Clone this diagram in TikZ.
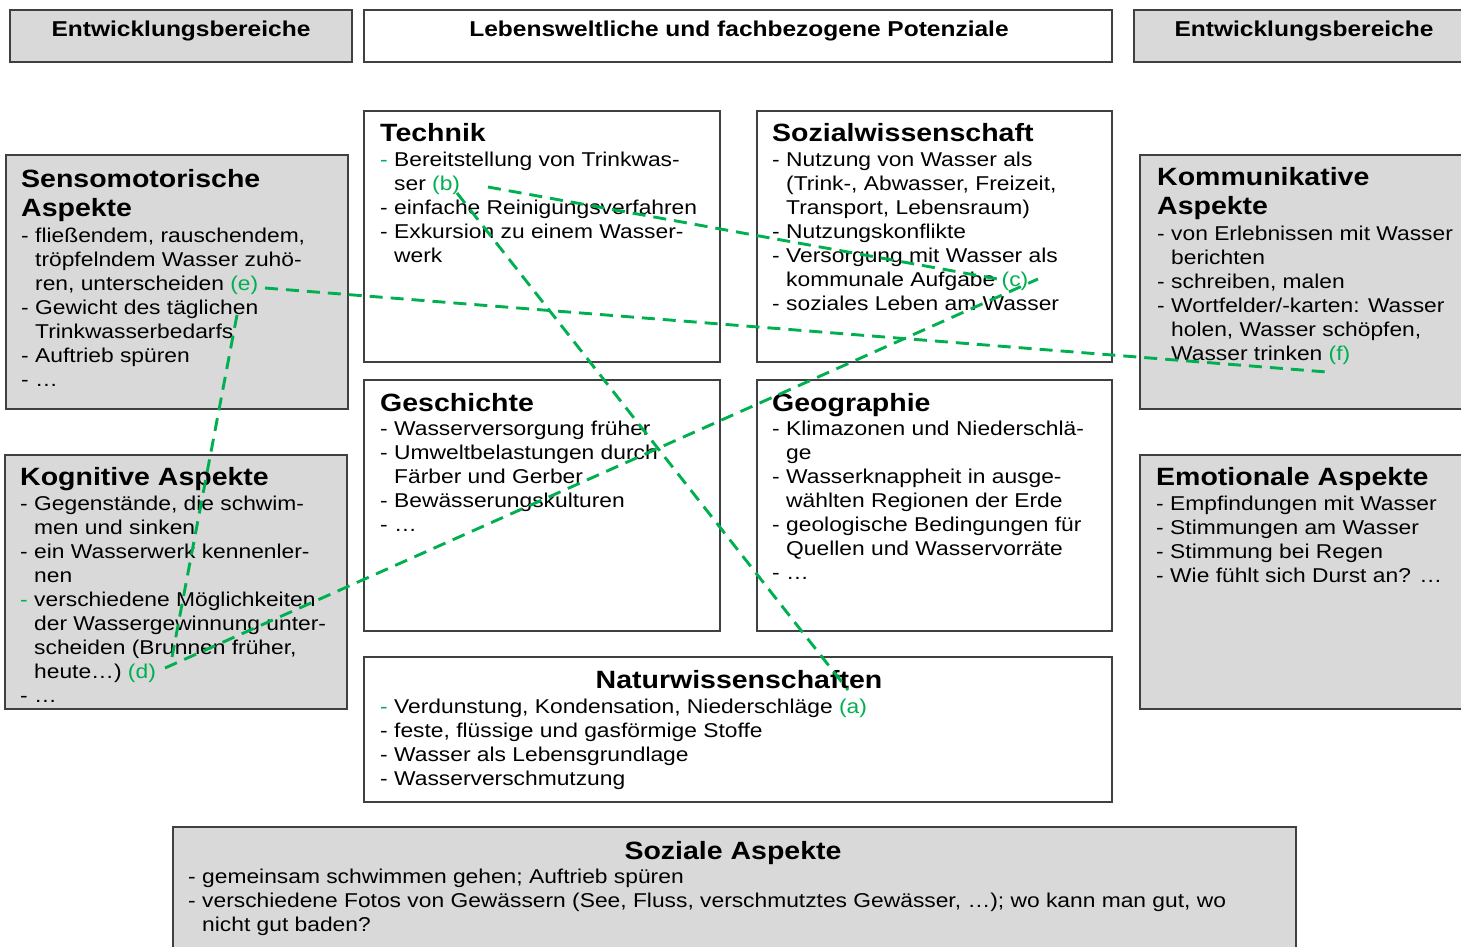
\documentclass[tikz,border=0pt]{standalone}
\usepackage{fontspec}
\setmainfont{Liberation Sans}[FakeStretch=1.14]
\usetikzlibrary{fit}
\definecolor{lgreen}{HTML}{00B050}
\definecolor{boxgray}{HTML}{D9D9D9}
\definecolor{edge}{HTML}{404040}
\newcommand\dsh{\makebox[14pt][l]{-}}
\newcommand\gdsh{\makebox[14pt][l]{\textcolor{lgreen}{-}}}
\newcommand\ind{\makebox[14pt]{}}
\newcommand\lab[1]{\textcolor{lgreen}{(#1)}}
\begin{document}
\begin{tikzpicture}[x=1pt,y=-1pt,
 whitebox/.style={draw=edge, line width=1.3pt, fill=white, inner sep=0pt},
 graybox/.style={whitebox, fill=boxgray},
 headtxt/.style={font=\fontsize{21.5}{24}\selectfont\bfseries, inner sep=0pt, anchor=north},
 titletxt/.style={font=\fontsize{25}{29.5}\selectfont\bfseries, inner sep=0pt, align=left, anchor=north west},
 listtxt/.style={font=\fontsize{20}{24}\selectfont, inner sep=0pt, align=left, anchor=north west},
 link/.style={draw=lgreen, line width=2.9pt, dash pattern=on 13pt off 8pt}]
\useasboundingbox[fill=white] (0,0) rectangle (1461,946);

% header boxes
\node[graybox, fit={(10,10) (352,62)}] (h1) {};
\node[whitebox, fit={(364,10) (1112,62)}] (h2) {};
\node[graybox, fit={(1134,10) (1475,62)}] (h3) {};
\node[headtxt] (h1t) at (181,21) {Entwicklungsbereiche};
\node[headtxt] (h2t) at (739,21) {Lebensweltliche und fachbezogene Potenziale};
\node[headtxt] (h3t) at (1304,21) {Entwicklungsbereiche};

% boxes
\node[graybox, fit={(6,155) (348,409)}] (senso) {};
\node[graybox, fit={(5,455) (347,709)}] (kogn) {};
\node[whitebox, fit={(364,111) (720,362)}] (tech) {};
\node[whitebox, fit={(757,111) (1112,362)}] (sozw) {};
\node[whitebox, fit={(364,380) (720,631)}] (gesch) {};
\node[whitebox, fit={(757,380) (1112,631)}] (geo) {};
\node[whitebox, fit={(364,657) (1112,802)}] (natur) {};
\node[graybox, fit={(1140,155) (1475,409)}] (komm) {};
\node[graybox, fit={(1140,455) (1475,709)}] (emo) {};
\node[graybox, fit={(173,827) (1296,960)}] (sozial) {};

% Sensomotorische
\node[titletxt] (sensoT) at (21,169) {Sensomotorische\\Aspekte};
\node[listtxt] (sensoL) at (21,228) {\dsh fließendem, rauschendem,\\
\ind tröpfelndem Wasser zuhö-\\
\ind ren, unterscheiden \lab{e}\\
\dsh Gewicht des täglichen\\
\ind Trinkwasserbedarfs\\
\dsh Auftrieb spüren\\
\dsh …};

% Kognitive
\node[titletxt] (kognT) at (20,467) {Kognitive Aspekte};
\node[listtxt] (kognL) at (20,496) {\dsh Gegenstände, die schwim-\\
\ind men und sinken\\
\dsh ein Wasserwerk kennenler-\\
\ind nen\\
\gdsh verschiedene Möglichkeiten\\
\ind der Wassergewinnung unter-\\
\ind scheiden (Brunnen früher,\\
\ind heute…) \lab{d}\\
\dsh …};

% Technik
\node[titletxt] (techT) at (380,123) {Technik};
\node[listtxt] (techL) at (380,152) {\gdsh Bereitstellung von Trinkwas-\\
\ind ser \lab{b}\\
\dsh einfache Reinigungsverfahren\\
\dsh Exkursion zu einem Wasser-\\
\ind werk};

% Sozialwissenschaft
\node[titletxt] (sozwT) at (772,123) {Sozialwissenschaft};
\node[listtxt] (sozwL) at (772,152) {\dsh Nutzung von Wasser als\\
\ind (Trink-, Abwasser, Freizeit,\\
\ind Transport, Lebensraum)\\
\dsh Nutzungskonflikte\\
\dsh Versorgung mit Wasser als\\
\ind kommunale Aufgabe \lab{c}\\
\dsh soziales Leben am Wasser};

% Geschichte
\node[titletxt] (geschT) at (380,393) {Geschichte};
\node[listtxt] (geschL) at (380,421) {\dsh Wasserversorgung früher\\
\dsh Umweltbelastungen durch\\
\ind Färber und Gerber\\
\dsh Bewässerungskulturen\\
\dsh …};

% Geographie
\node[titletxt] (geoT) at (772,393) {Geographie};
\node[listtxt] (geoL) at (772,421) {\dsh Klimazonen und Niederschlä-\\
\ind ge\\
\dsh Wasserknappheit in ausge-\\
\ind wählten Regionen der Erde\\
\dsh geologische Bedingungen für\\
\ind Quellen und Wasservorräte\\
\dsh …};

% Naturwissenschaften
\node[titletxt, anchor=north] (naturT) at (739,670) {Naturwissenschaften};
\node[listtxt] (naturL) at (380,699) {\gdsh Verdunstung, Kondensation, Niederschläge \lab{a}\\
\dsh feste, flüssige und gasförmige Stoffe\\
\dsh Wasser als Lebensgrundlage\\
\dsh Wasserverschmutzung};

% Kommunikative
\node[titletxt] (kommT) at (1157,167) {Kommunikative\\Aspekte};
\node[listtxt] (kommL) at (1157,226) {\dsh von Erlebnissen mit Wasser\\
\ind berichten\\
\dsh schreiben, malen\\
\dsh Wortfelder/-karten: Wasser\\
\ind holen, Wasser schöpfen,\\
\ind Wasser trinken \lab{f}};

% Emotionale
\node[titletxt] (emoT) at (1156,467) {Emotionale Aspekte};
\node[listtxt] (emoL) at (1156,496) {\dsh Empfindungen mit Wasser\\
\dsh Stimmungen am Wasser\\
\dsh Stimmung bei Regen\\
\dsh Wie fühlt sich Durst an? …};

% Soziale Aspekte
\node[titletxt, anchor=north] (sozialT) at (733,841) {Soziale Aspekte};
\node[listtxt] (sozialL) at (188,869) {\dsh gemeinsam schwimmen gehen; Auftrieb spüren\\
\dsh verschiedene Fotos von Gewässern (See, Fluss, verschmutztes Gewässer, …); wo kann man gut, wo\\
\ind nicht gut baden?};

% link end points
\coordinate (b1) at (457,193);
\coordinate (a1) at (848,690);
\coordinate (b2) at (488,187);
\coordinate (c1) at (1003,280);
\coordinate (d1) at (165,668);
\coordinate (c2) at (1038,279);
\coordinate (e1) at (265,288);
\coordinate (f1) at (1327,372);
\coordinate (e2) at (237,315);
\coordinate (d2) at (172,657);

\draw[link] (b1) -- (a1);
\draw[link] (b2) -- (c1);
\draw[link] (d1) -- (c2);
\draw[link] (e1) -- (f1);
\draw[link] (e2) -- (d2);
\end{tikzpicture}
\end{document}
